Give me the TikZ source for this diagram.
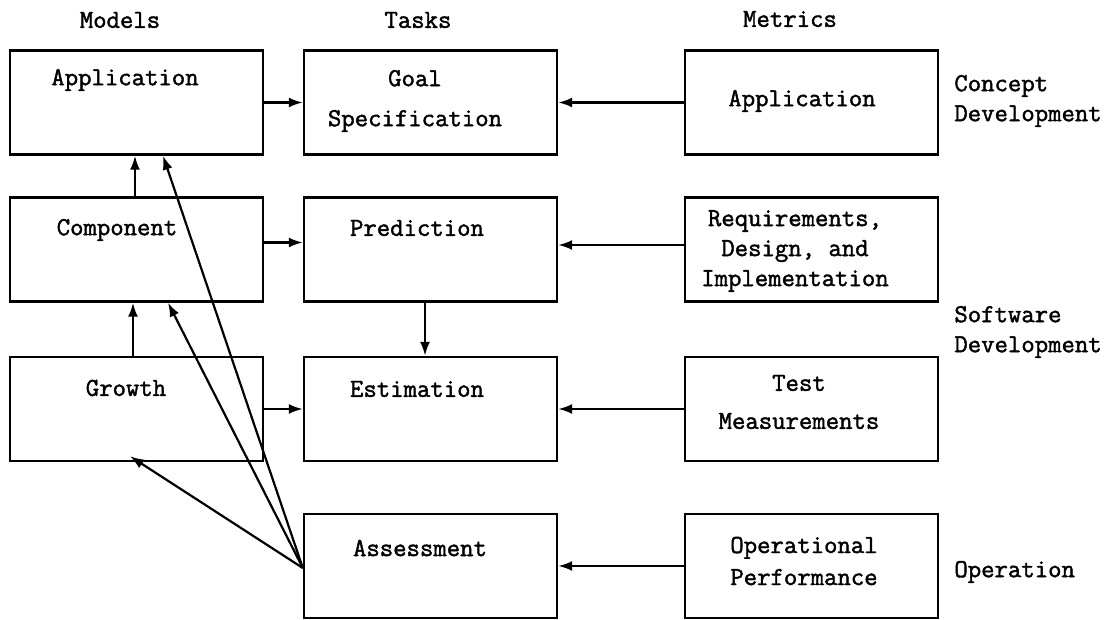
\documentclass[tikz,border=0pt]{standalone}
\usepackage{fontspec}
\setmonofont{Latin Modern Mono}[AutoFakeBold=1.6]
\usepackage{tikz}
\usetikzlibrary{arrows.meta}
\usetikzlibrary{calc}
\usetikzlibrary{positioning}

\newcommand{\lblfont}{\fontsize{13pt}{15pt}\selectfont\ttfamily\bfseries}

\tikzset{
	box/.style={draw, line width=1.2pt, minimum width=126.5pt, minimum height=52pt, inner sep=0pt},
	lbl/.style={font=\lblfont, align=center, inner sep=0pt},
	side/.style={font=\lblfont, align=left, anchor=west, inner sep=0pt},
	link/.style={line width=1.1pt, -{Latex[length=7pt,width=5pt]}}
}

\begin{document}
\begin{tikzpicture}[x=0.5pt, y=0.5pt]
	\useasboundingbox (0,0) rectangle (1119,620);
	
	% column headers
	\node[lbl] (hmodels) at (120,600) {Models};
	\node[lbl] (htasks) at (418,600) {Tasks};
	\node[lbl] (hmetrics) at (790,601) {Metrics};
	
	% models
	\node[box] (mapp) at (136.5,517.5) {};
	\node[box] (mcomp) at (136.5,370.5) {};
	\node[box] (mgrow) at (136.5,211) {};
	\node[lbl] (mappT) at (125,540) {Application};
	\node[lbl] (mcompT) at (117,390) {Component};
	\node[lbl] (mgrowT) at (126,232) {Growth};
	
	% tasks
	\node[box] (goal) at (430.5,517.5) {};
	\node[box] (pred) at (430.5,370.5) {};
	\node[box] (est) at (430.5,211) {};
	\node[box] (assess) at (430.5,54) {};
	\node[lbl] (goalT) at (415,519) {Goal\\[5pt] Specification};
	\node[lbl] (predT) at (417,392) {Prediction};
	\node[lbl] (estT) at (417,231) {Estimation};
	\node[lbl] (assessT) at (420,72) {Assessment};
	
	% metrics
	\node[box] (xapp) at (811.5,517.5) {};
	\node[box] (xreq) at (811.5,370.5) {};
	\node[box] (xtest) at (811.5,211) {};
	\node[box] (xoper) at (811.5,54) {};
	\node[lbl] (xappT) at (802,519) {Application};
	\node[lbl] (xreqT) at (795,369) {Requirements,\\ Design, and\\ Implementation};
	\node[lbl] (xtestT) at (799,218) {Test\\[4pt] Measurements};
	\node[lbl] (xoperT) at (804,59) {Operational\\[1pt] Performance};
	
	% phases
	\node[side] (pconcept) at (954,519) {Concept\\ Development};
	\node[side] (psoft) at (954,288) {Software\\ Development};
	\node[side] (poper) at (954,48) {Operation};
	
	% models -> tasks
	\draw[link] (mapp.east) -- (goal.west);
	\draw[link] ([yshift=3.5pt]mcomp.east) -- ([yshift=3.5pt]pred.west);
	\draw[link] (mgrow.east) -- (est.west);
	
	% metrics -> tasks
	\draw[link] (xapp.west) -- (goal.east);
	\draw[link] ([yshift=2.25pt]xreq.west) -- ([yshift=2.25pt]pred.east);
	\draw[link] (xtest.west) -- (est.east);
	\draw[link] (xoper.west) -- (assess.east);
	
	% within columns
	\draw[link] ([xshift=-0.75pt]mcomp.north) -- ([xshift=-0.75pt]mapp.south);
	\draw[link] ([xshift=-1.75pt]mgrow.north) -- ([xshift=-1.75pt]mcomp.south);
	\draw[link] ([xshift=-2.75pt]pred.south) -- ([xshift=-2.75pt]est.north);
	
	% assessment feedback
	\draw[link] ([yshift=-1pt]assess.west) -- ([xshift=13.25pt]mapp.south);
	\draw[link] ([yshift=-1pt]assess.west) -- ([xshift=15.75pt]mcomp.south);
	\draw[link] ([yshift=-1pt]assess.west) -- ([xshift=-3.25pt,yshift=3pt]mgrow.south);
\end{tikzpicture}
\end{document}
